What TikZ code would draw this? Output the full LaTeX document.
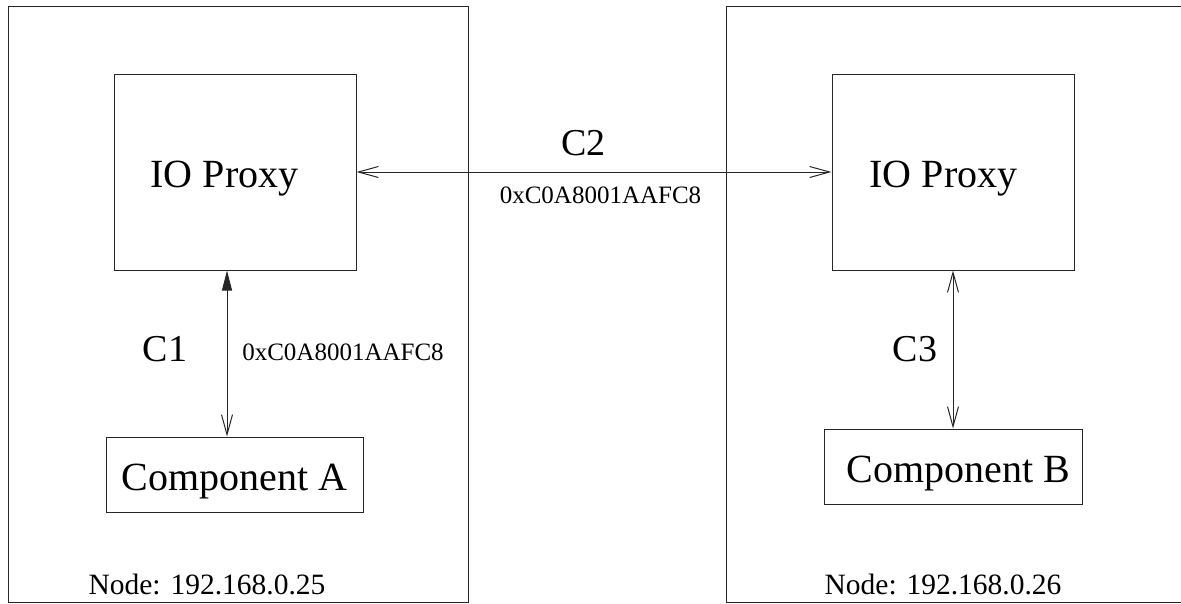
\documentclass[tikz,border=0pt]{standalone}
\usepackage{fontspec}
\setmainfont{Liberation Serif}
\usetikzlibrary{arrows.meta}
\begin{document}
\begin{tikzpicture}[x=1pt,y=-1pt,
  box/.style={draw=black!85, line width=1pt, inner sep=0pt},
  txt/.style={anchor=base, inner sep=0pt},
  big/.style={txt, font=\fontsize{40}{48}\selectfont},
  clab/.style={txt, font=\fontsize{38}{46}\selectfont},
  hex/.style={txt, font=\fontsize{25}{30}\selectfont},
  host/.style={txt, font=\fontsize{29.5}{35}\selectfont},
  link/.style={draw=black!85, line width=1pt},
  barb/.tip={Straight Barb[length=20pt,width=11pt,line width=1pt]},
  solid tip/.tip={Triangle[length=20pt,width=10pt]}]
\useasboundingbox (0,0) rectangle (1181,603);
\begin{scope}
\clip (0,0) rectangle (1181,603);
% host enclosures
\node[box, minimum width=460, minimum height=596] (hostA) at (238,304) {};
\node[box, minimum width=470, minimum height=596] (hostB) at (961,304) {};
\end{scope}
% proxies and components
\node[box, minimum width=242, minimum height=196] (proxyA) at (235,172) {};
\node[box, minimum width=242, minimum height=196] (proxyB) at (953,172) {};
\node[box, minimum width=257, minimum height=75] (compA) at (234.5,474.5) {};
\node[box, minimum width=258, minimum height=75] (compB) at (953,466.5) {};
% texts
\node[big] (tpA) at (224.5,187) {IO Proxy};
\node[big] (tpB) at (943.5,187) {IO Proxy};
\node[big] (tcA) at (234.5,490) {Component A};
\node[big] (tcB) at (958.5,482) {Component B};
\node[clab] (c1) at (165,361) {C1};
\node[clab] (c2) at (583.5,155) {C2};
\node[clab] (c3) at (915,361) {C3};
\node[hex] (h1) at (343,360) {0xC0A8001AAFC8};
\node[hex] (h2) at (600.5,203) {0xC0A8001AAFC8};
\node[host] (nA) at (207,594) {Node: 192.168.0.25};
\node[host] (nB) at (943,594) {Node: 192.168.0.26};
% channels
\draw[link, {barb}-{barb}] (proxyA.east) -- (proxyB.west);
\draw[link, {solid tip}-{barb}] ([xshift=-8pt]proxyA.south) -- ([xshift=-7.5pt]compA.north);
\draw[link, {barb}-{barb}] (proxyB.south) -- (compB.north);
\end{tikzpicture}
\end{document}
